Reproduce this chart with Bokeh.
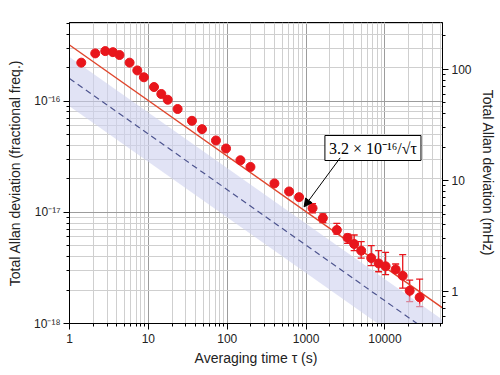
from bokeh.plotting import figure
from bokeh.models import (Range1d, LogAxis, LogScale, LogTicker, CustomJSTickFormatter,
                          ColumnDataSource, Whisker, TeeHead, Label, Arrow, NormalHead)
from bokeh.embed import file_html
from bokeh.resources import INLINE

# ---- data ----
tau = [1.41, 2.12, 2.84, 3.55, 4.31, 5.78, 7.24, 8.78, 11.8, 14.6, 17.6, 23.5, 35.7, 47.9,
       72, 96.6, 147, 197, 397, 609, 816, 1208, 1633, 2456, 3360, 4074, 5000, 6700, 8318,
       10200, 13680, 16800, 20600, 27550]
adev = [2.22e-16, 2.69e-16, 2.82e-16, 2.76e-16, 2.6e-16, 2.22e-16, 1.89e-16, 1.64e-16,
        1.34e-16, 1.16e-16, 1.03e-16, 8.5e-17, 6.66e-17, 5.6e-17, 4.43e-17, 3.75e-17,
        2.94e-17, 2.56e-17, 1.82e-17, 1.54e-17, 1.37e-17, 1.09e-17, 8.87e-18, 6.93e-18,
        5.89e-18, 5.19e-18, 4.52e-18, 3.88e-18, 3.47e-18, 3.27e-18, 3.06e-18, 2.69e-18,
        1.97e-18, 1.72e-18]
err_tau = [1208, 1633, 2456, 3360, 4074, 5000, 6700, 8318, 10200, 13680, 16800, 20600, 27550]
err_lo = [9.9e-18, 8.1e-18, 6.38e-18, 5.26e-18, 4.52e-18, 3.88e-18, 3.31e-18, 2.92e-18,
          2.75e-18, 2.92e-18, 2.08e-18, 1.57e-18, 1.42e-18]
err_hi = [1.2e-17, 9.7e-18, 7.96e-18, 6.38e-18, 6.25e-18, 5.44e-18, 5.01e-18, 4.52e-18,
          4.36e-18, 3.43e-18, 4.16e-18, 2.46e-18, 2.51e-18]

fit_coef = 3.2e-16      # red line: 3.2e-16/sqrt(tau)
proj_coef = 1.6e-16     # dashed projection
band_lo_coef = 0.9e-16
band_hi_coef = 2.5e-16
nu_hz = 518.2958e12     # clock frequency for mHz axis

x_min, x_max = 1, 53700
y_min, y_max = 1e-18, 5.1e-16

# ---- figure ----
p = figure(frame_width=373, frame_height=301, x_axis_type="log", y_axis_type="log",
           x_range=Range1d(x_min, x_max), y_range=Range1d(y_min, y_max),
           output_backend="svg", toolbar_location=None,
           min_border_left=69, min_border_top=22, min_border_right=48, min_border_bottom=44)
p.background_fill_color = "white"
p.outline_line_color = "black"
p.outline_line_width = 1

for g in (p.xgrid[0], p.ygrid[0]):
    g.grid_line_color = "#9c9c9c"
    g.grid_line_width = 1
    g.minor_grid_line_color = "#cfcfcf"
    g.minor_grid_line_width = 1

# band + lines
xs = [x_min, x_max]
p.varea(x=xs, y1=[band_lo_coef / x ** 0.5 for x in xs], y2=[band_hi_coef / x ** 0.5 for x in xs],
        fill_color="#cdd1ee", fill_alpha=0.6)
p.line(xs, [proj_coef / x ** 0.5 for x in xs], line_color="#4d548f", line_width=1.2,
       line_dash="6 4")
p.line(xs, [fit_coef / x ** 0.5 for x in xs], line_color="#e0462c", line_width=1.4)

# error bars + points
esrc = ColumnDataSource(dict(x=err_tau, lo=err_lo, hi=err_hi))
red = "#e8161c"
p.add_layout(Whisker(base="x", lower="lo", upper="hi", source=esrc, line_color=red, line_width=1.3,
                     upper_head=TeeHead(size=7, line_color=red, line_width=1.3),
                     lower_head=TeeHead(size=7, line_color=red, line_width=1.3)))
p.scatter(tau, adev, size=9, fill_color=red, line_color=red)

# annotation
p.add_layout(Label(x=7046, y=3.79e-17, text="3.2 × 10⁻¹⁶/√τ", text_align="center",
                   text_baseline="middle", text_font="Liberation Serif", text_font_size="16px",
                   text_color="black", background_fill_color="white",
                   border_line_color="black", border_line_width=1, padding=4))
p.add_layout(Arrow(x_start=2706, y_start=3.09e-17, x_end=944, y_end=1.12e-17,
                   line_color="black", line_width=1,
                   end=NormalHead(size=8, fill_color="black", line_color="black")))

# axes styling
sup_code = """
const sup = {'-':'\u207b','0':'\u2070','1':'\u00b9','2':'\u00b2','3':'\u00b3','4':'\u2074','5':'\u2075','6':'\u2076','7':'\u2077','8':'\u2078','9':'\u2079'};
const e = Math.round(Math.log10(tick));
return '10' + String(e).split('').map(c => sup[c]).join('');
"""
plain_code = "return Math.round(tick).toString();"

def style(ax):
    ax.axis_line_color = "black"
    ax.major_tick_line_color = "black"
    ax.minor_tick_line_color = "black"
    ax.major_tick_out = 6
    ax.major_tick_in = 0
    ax.minor_tick_out = 3
    ax.minor_tick_in = 0
    ax.major_label_text_font = "Liberation Sans"
    ax.major_label_text_font_size = "12px"
    ax.major_label_text_color = "#222222"
    ax.axis_label_text_font = "Liberation Sans"
    ax.axis_label_text_font_size = "14px"
    ax.axis_label_text_font_style = "normal"
    ax.axis_label_text_color = "#222222"

xa = p.xaxis[0]
style(xa)
xa.formatter = CustomJSTickFormatter(code=plain_code)
xa.axis_label = "Averaging time τ (s)"
xa.major_label_standoff = 4
xa.axis_label_standoff = 4

ya = p.yaxis[0]
style(ya)
ya.formatter = CustomJSTickFormatter(code=sup_code)
ya.axis_label = "Total Allan deviation (fractional freq.)"
ya.major_label_standoff = 3
ya.axis_label_standoff = 8

p.extra_y_ranges = {"mhz": Range1d(y_min * nu_hz * 1e3, y_max * nu_hz * 1e3)}
p.extra_y_scales = {"mhz": LogScale()}
ra = LogAxis(y_range_name="mhz", ticker=LogTicker(num_minor_ticks=10))
style(ra)
ra.formatter = CustomJSTickFormatter(code=plain_code)
ra.axis_label = "Total Allan deviation (mHz)"
ra.major_label_standoff = 3
ra.axis_label_standoff = 5
p.add_layout(ra, "right")

open("out.html", "w").write(file_html(p, INLINE))
